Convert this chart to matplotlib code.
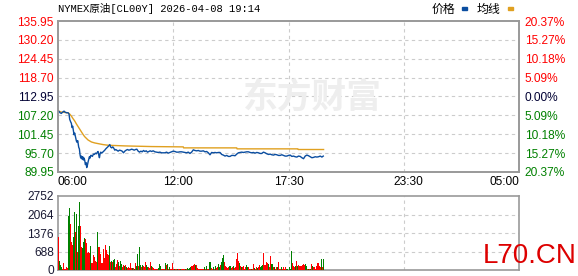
import matplotlib
matplotlib.use("Agg")
import matplotlib.pyplot as plt

# ---- data ----
title = "NYMEX原油[CL00Y] 2026-04-08 19:14"
price_ticks = [89.95, 95.70, 101.45, 107.20, 112.95, 118.70, 124.45, 130.20, 135.95]
pct_labels = ["20.37%", "15.27%", "10.18%", "5.09%", "0.00%", "5.09%", "10.18%", "15.27%", "20.37%"]
vol_ticks = [0, 688, 1376, 2064, 2752]
time_labels = ["06:00", "12:00", "17:30", "23:30", "05:00"]
time_pos = [0, 360, 690, 1050, 1380]       # minutes after 06:00
grid_pos = [0, 345, 690, 1035, 1380]

# price line (minutes after 06:00, price)
price_t = [0, 3, 6, 10, 14, 18, 21, 25, 30, 33, 35, 38, 40, 42, 44, 46, 48, 50, 52, 55,
           57, 59, 62, 64, 66, 68, 70, 72, 74, 76, 78, 80, 82, 84, 86, 88, 90, 92, 94, 96,
           98, 100, 103, 106, 109, 112, 115, 118, 120, 122, 124, 126, 128, 131, 134, 137,
           140, 143, 146, 149, 152, 155, 158, 161, 164, 167, 170, 173, 176, 180, 184, 188,
           192, 196, 200, 204, 208, 212, 216, 220, 224, 228, 232, 236, 240, 244, 248, 252,
           256, 260, 264, 268, 272, 276, 280, 285, 290, 295, 300, 305, 310, 320, 325, 330,
           335, 340, 345, 350, 355, 360, 365, 370, 380, 385, 390, 395, 400, 405, 410, 415,
           420, 425, 430, 435, 440, 445, 450, 455, 460, 465, 470, 475, 480, 485, 490, 495,
           500, 505, 510, 515, 520, 525, 530, 535, 540, 545, 550, 555, 560, 565, 570, 575,
           580, 585, 590, 595, 600, 605, 610, 615, 620, 625, 630, 635, 640, 645, 650, 655,
           660, 665, 670, 675, 680, 685, 690, 695, 700, 705, 710, 715, 720, 725, 730, 735,
           740, 745, 750, 755, 760, 765, 770, 775, 780, 785, 790, 794]
price_v = [108.6, 108.4, 108.0, 107.8, 108.2, 108.5, 108.2, 108.0, 108.0, 107.6, 106.0, 105.2,
           104.8, 103.5, 103.9, 102.5, 101.3, 101.8, 100.8, 99.4, 99.0, 99.5, 97.5, 97.0, 95.2,
           94.2, 94.8, 93.9, 94.6, 93.6, 94.2, 93.5, 92.2, 92.8, 91.3, 92.0, 93.0, 93.8, 94.6,
           94.2, 95.0, 95.0, 94.7, 95.4, 95.3, 95.7, 95.5, 96.0, 96.2, 95.1, 94.3, 95.5, 96.0,
           95.7, 96.0, 96.3, 96.6, 97.0, 97.3, 97.6, 97.9, 98.3, 97.5, 97.3, 97.6, 97.2, 96.6,
           96.8, 96.6, 96.3, 96.6, 96.5, 96.3, 95.8, 96.3, 96.6, 96.8, 96.6, 96.7, 96.9, 96.8,
           96.6, 96.8, 96.9, 96.3, 96.0, 96.3, 96.1, 96.5, 96.2, 96.4, 96.0, 96.2, 96.4, 96.2,
           96.4, 96.1, 96.0, 95.9, 96.0, 95.8, 95.8, 96.0, 95.7, 95.9, 96.1, 96.3, 96.2, 96.0,
           96.0, 96.1, 96.1, 95.9, 95.8, 96.0, 95.6, 96.0, 96.7, 96.5, 96.4, 96.5, 96.3, 96.3,
           96.4, 96.1, 96.2, 95.8, 95.2, 95.9, 95.8, 95.9, 95.8, 95.9, 95.9, 95.3, 95.1, 94.8,
           95.0, 94.7, 94.7, 95.0, 95.0, 94.9, 95.4, 95.8, 95.9, 96.0, 95.9, 96.0, 96.1,
           96.1, 95.9, 95.8, 95.9, 95.7, 95.9, 95.8, 95.6, 95.6, 96.0, 95.8, 95.5, 95.3, 95.4,
           95.2, 95.1, 95.3, 95.2, 95.0, 95.0, 95.2, 95.0, 94.8, 94.8, 95.0, 95.1, 94.7, 94.8,
           94.6, 94.5, 94.8, 94.7, 94.3, 94.0, 94.8, 95.1, 94.9, 94.6, 94.3, 94.4, 94.6, 94.5,
           94.6, 94.8, 94.5, 94.8]

# average line
avg_t = [0, 10, 30, 35, 40, 45, 50, 55, 60, 65, 70, 75, 80, 85, 90, 95, 100, 110, 120, 135,
         150, 200, 280, 375, 376, 535, 536, 718, 719, 795]
avg_v = [108.6, 108.2, 108.0, 107.6, 107.0, 106.2, 105.5, 104.6, 103.8, 103.0, 102.2, 101.4,
         100.7, 100.2, 99.7, 99.4, 99.1, 98.8, 98.6, 98.3, 98.1, 97.9, 97.7, 97.6, 97.3, 97.3,
         97.0, 97.0, 96.8, 96.8]

# volume, one bar per 3 minutes, colour r/g
vol_v = [1215, 335, 186, 124, 37, 248, 37, 37, 100, 60, 2009, 2294, 1711, 1054, 930, 1215,
         2145, 1426, 2083, 682, 1637, 2517, 1637, 843, 806, 1054, 1178, 1141, 992, 645, 682,
         645, 893, 273, 248, 558, 496, 347, 310, 1414, 868, 843, 595, 273, 248, 769, 434, 930,
         744, 595, 558, 893, 310, 347, 310, 372, 409, 100, 223, 372, 310, 149, 335, 223, 124,
         186, 149, 186, 100, 62, 100, 62, 273, 62, 87, 62, 50, 248, 149, 595, 149, 868, 186,
         124, 186, 149, 100, 310, 186, 124, 100, 62, 310, 149, 100, 60,
         25, 25, 25, 25, 62, 223, 149, 25, 25, 37, 50, 248, 186, 223, 50, 100, 37, 25, 248,
         25, 25, 37, 25, 25, 50, 25, 25, 37, 25, 25, 50, 25, 25, 62, 50, 87, 124, 149, 149,
         198, 223, 198, 186, 62, 25, 25, 37, 25, 25, 25, 100, 50, 149, 50, 25, 298, 298, 62,
         50, 100, 37, 136, 62, 124, 223, 124, 186, 310, 434, 558, 310, 149, 100, 62, 100, 149,
         149, 62, 100, 149, 62, 124, 409, 645, 347, 248, 149, 100, 100, 149, 50, 100, 186,
         124, 100, 50,
         25, 25, 25, 223, 62, 37, 100, 62, 124, 186, 124, 149, 186, 620, 186, 186, 310, 273,
         223, 124, 521, 223, 223, 100, 100, 50, 124, 100, 310, 50, 50, 100, 50, 100, 50, 100,
         50, 25, 100, 50, 707, 248, 149, 100, 149, 347, 149, 174, 149, 149, 149, 174, 223,
         198, 223, 149, 50, 50, 50, 50, 223, 149, 100, 100, 50, 149, 273, 248, 149, 100, 409,
         100, 397]
vol_c = ("rgggrrrrrrggrrrggrgrggrrgggrrrrrgrrrrrrgrrrrrrrrrrrgrgrggrrrgrggrrgrgrrrrrgrgrggrgg"
         "rgrrrggrrrgrr"
         "rrrrgggrrrrgrgrgrrrrgrrgrrgrrrrgrggggrrrrgrrrrrrrrgrgrrggrrgrgrrggrgggrrrrrggrrgrrr"
         "rrgrgrrrrgg"
         "rrrgrrgrrgrrgggrrrrrgrrggrgrrgrrrgrrrrgggggrrrgrgrrrrrrrggrgrgrgrrrrrrrrgrg")

RED = "#ff0000"
GREEN = "#008000"
BLUE = "#0a4da0"
GOLD = "#e0a020"
FRAME = "#999999"
GRID = "#cccccc"

plt.rcParams["font.family"] = ["Liberation Sans", "Noto Sans CJK SC", "DejaVu Sans"]
fs = 8.6

fig = plt.figure(figsize=(5.78, 2.76), dpi=100)
ax = fig.add_axes([58 / 578, 104 / 276, 461 / 578, 151 / 276])
axv = fig.add_axes([58 / 578, 6 / 276, 461 / 578, 74 / 276])

# watermark
fig.text(312 / 578, 1 - 97 / 276, "东方财富", fontsize=25, color="#eeeeee",
         fontweight="bold", family=["Noto Sans CJK SC"], ha="center", va="center",
         zorder=0)

# price panel
ax.plot(avg_t, avg_v, color=GOLD, lw=1.0, zorder=3)
ax.plot(price_t, price_v, color=BLUE, lw=1.0, zorder=4)
ax.set_xlim(0, 1380)
ax.set_ylim(price_ticks[0], price_ticks[-1])
ax.patch.set_alpha(0)
for g in grid_pos[1:-1]:
    ax.axvline(g, color=GRID, lw=0.8, ls=(0, (3, 3)), zorder=1)
for p in price_ticks[1:-1]:
    ax.axhline(p, color=GRID, lw=0.8, ls=(0, (3, 3)), zorder=1)
ax.set_yticks(price_ticks)
ax.set_yticklabels([f"{p:.2f}" for p in price_ticks], fontsize=fs)
for lab, p in zip(ax.get_yticklabels(), price_ticks):
    lab.set_color(RED if p > 112.95 else (GREEN if p < 112.95 else "#000033"))
ax.set_xticks(time_pos)
ax.set_xticklabels(time_labels, fontsize=fs)
xl = ax.get_xticklabels()
xl[0].set_ha("left")
xl[-1].set_ha("right")
ax.tick_params(length=0, pad=3)

axr = ax.twinx()
axr.set_ylim(price_ticks[0], price_ticks[-1])
axr.set_yticks(price_ticks)
axr.set_yticklabels(pct_labels, fontsize=fs)
for lab, p in zip(axr.get_yticklabels(), price_ticks):
    lab.set_color(RED if p > 112.95 else (GREEN if p < 112.95 else "#000033"))
axr.tick_params(length=0, pad=4)

for a in (ax, axr, axv):
    for s in a.spines.values():
        s.set_color(FRAME)
        s.set_linewidth(1.2)

# volume panel
xs = [1.5 + 3 * i for i in range(len(vol_v))]
vol_c = vol_c.ljust(len(vol_v), "r")
cols = [RED if c == "r" else GREEN for c in vol_c[:len(vol_v)]]
axv.bar(xs, vol_v, width=3, color=cols, linewidth=0, zorder=3)
axv.set_xlim(0, 1380)
axv.set_ylim(0, vol_ticks[-1])
for g in grid_pos[1:-1]:
    axv.axvline(g, color=GRID, lw=0.8, ls=(0, (3, 3)), zorder=1)
for v in vol_ticks[1:-1]:
    axv.axhline(v, color=GRID, lw=0.8, ls=(0, (3, 3)), zorder=1)
axv.set_yticks(vol_ticks)
axv.set_yticklabels([str(v) for v in vol_ticks], fontsize=fs, color="#1a1a33")
axv.set_xticks([])
axv.tick_params(length=0, pad=3)

# title and legend
fig.text(58 / 578, 1 - 9 / 276, title, fontsize=7.6,
         family=["Liberation Mono", "Noto Sans CJK SC"], va="center", ha="left")
fig.text(432 / 578, 1 - 9 / 276, "价格", fontsize=8.6, family=["Noto Sans CJK SC"],
         va="center", ha="left")
fig.patches.append(plt.Rectangle((462 / 578, 1 - 10 / 276), 5 / 578, 3 / 276,
                                 color=BLUE, transform=fig.transFigure))
fig.text(477 / 578, 1 - 9 / 276, "均线", fontsize=8.6, family=["Noto Sans CJK SC"],
         va="center", ha="left")
fig.patches.append(plt.Rectangle((508 / 578, 1 - 10 / 276), 5 / 578, 3 / 276,
                                 color=GOLD, transform=fig.transFigure))

fig.text(483 / 578, 1 - 256 / 276, "L70.CN", fontsize=20, color="#dd0000",
         va="center", ha="left")

fig.savefig("out.png", dpi=100)
